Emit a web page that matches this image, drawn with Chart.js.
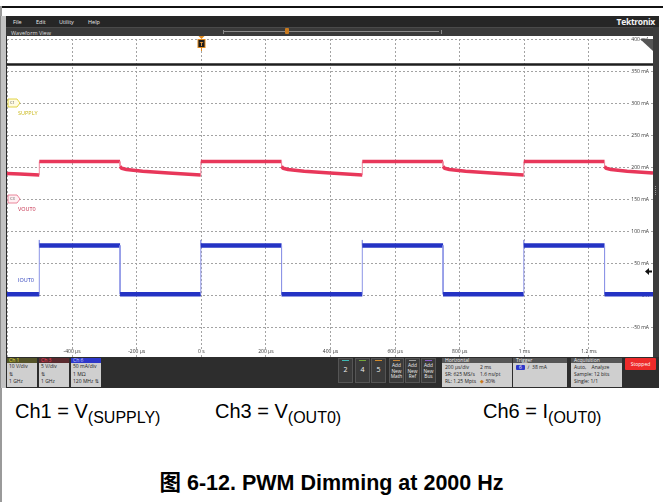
<!DOCTYPE html>
<html>
<head>
<meta charset="utf-8">
<script src="https://cdn.jsdelivr.net/npm/chart.js@4.4.0/dist/chart.umd.min.js"></script>
<style>
  body { margin: 0; width: 663px; height: 502px; background: #fff; position: relative; overflow: hidden;
         font-family: "Liberation Sans", Arial, "Noto Sans CJK SC", sans-serif; }
  .abs { position: absolute; }
  .ui { font-family: "Open Sans", "DejaVu Sans", sans-serif; white-space: nowrap; }
  #frameTop { left: 0; top: 6px; width: 663px; height: 2px; background: #111; }
  #frameLeft { left: 0; top: 6px; width: 2px; height: 496px; background: #9a9a9a; }
  #sideband { left: 0; top: 16px; width: 6px; height: 372px; background: #c2c2c2; border-left: 1px solid #8a8a8a; box-sizing: border-box; }
  #screen { left: 6px; top: 16px; width: 653px; height: 372px; background: #2c2c2c; }
  #menu { left: 6px; top: 16px; width: 653px; height: 11px; background: #262626; }
  #menu span { position: absolute; top: 2px; font-size: 5.5px; color: #e6e6e6; }
  #logo { position: absolute; right: 4px; top: 0px; font-size: 8.5px; font-weight: bold; color: #f2f2f2; letter-spacing: -0.3px; }
  #wfbar { left: 6px; top: 27px; width: 647px; height: 9px; background: #3a3a3a; border-top: 1px solid #4a4a4a; box-sizing: border-box; }
  #wfbar .t { position: absolute; left: 5px; top: 1px; font-size: 5.5px; color: #dcdcdc; }
  #plotbg { left: 7px; top: 36px; width: 646px; height: 321px; background: #fff; }
  #rightStrip { left: 653px; top: 27px; width: 6px; height: 331px; background: #3c3c3c; }
  #grip { left: 655px; top: 186px; width: 2px; height: 9px; border-left: 1px dotted #999; }
  #wrap { left: 7px; top: 36px; width: 646px; height: 323px; }
  #status { left: 6px; top: 357px; width: 653px; height: 31px; background: #2d2d2d; }
  .chbox { position: absolute; top: 1px; width: 30px; height: 29px; }
  .chbox .h { height: 5px; font-size: 5px; line-height: 5px; padding-left: 2px; }
  .chbox .b { height: 24px; background: #cfcfcf; font-size: 5px; line-height: 7.5px; padding-left: 2px; color: #222; }
  .btn { position: absolute; top: 1px; width: 15px; height: 25px; background: #3a3a3a; border: 1px solid #555; box-sizing: border-box;
         color: #eee; text-align: center; }
  .btn .bar { height: 1px; margin: 1px 3px 0 3px; }
  .num { font-size: 7px; line-height: 17px; }
  .add { font-size: 4.8px; line-height: 5.5px; padding-top: 2px; }
  .panel { position: absolute; top: 1px; height: 28px; }
  .panel .h { height: 5px; background: #555; color: #eee; font-size: 5px; line-height: 5px; padding-left: 3px; }
  .panel .b { height: 23px; background: #cfcfcf; color: #222; font-size: 5px; line-height: 7px; padding: 1px 0 0 3px; position: relative; }
  #stopped { position: absolute; left: 619px; top: 1px; width: 31px; height: 12px; background: #ee2a2a; color: #fff;
             font-size: 5px; line-height: 12px; text-align: center; border-radius: 1px; }
  .cap { font-size: 20px; color: #000; white-space: nowrap; line-height: 24px; }
  .cap sub { font-size: 16px; vertical-align: -5px; line-height: 0; }
  #title { left: 0; width: 663px; top: 471px; text-align: center; font-weight: bold; font-size: 21.5px; line-height: 24px; }
</style>
</head>
<body>
<div class="abs" id="frameTop"></div>
<div class="abs" id="frameLeft"></div>
<div class="abs" id="sideband"></div>
<div class="abs" id="screen"></div>
<div class="abs ui" id="menu">
  <span style="left:7px">File</span><span style="left:30px">Edit</span><span style="left:53px">Utility</span><span style="left:82px">Help</span>
  <div id="logo">Tektronix</div>
</div>
<div class="abs ui" id="wfbar"><span class="t">Waveform View</span>
  <div class="abs" style="left:217px;top:2px;width:217px;height:4px;border:1px solid #8a8a8a;border-top:none;border-bottom:none;"></div>
  <div class="abs" style="left:218px;top:3px;width:215px;height:1px;background:#8a8a8a;"></div>
  <div class="abs" style="left:279px;top:0px;width:4px;height:6px;background:#c97a1e;border-radius:1px;"></div>
</div>
<div class="abs" id="plotbg"></div>
<div class="abs" id="rightStrip"></div>
<div class="abs" id="grip"></div>
<div class="abs" id="wrap"><canvas id="scope" width="646" height="323"></canvas></div>

<div class="abs ui" id="status">
  <div class="chbox" style="left:1px"><div class="h" style="background:#55542a;color:#e8e23a">Ch 1</div>
    <div class="b">10 V/div<br>&#8645;<br>1 GHz</div></div>
  <div class="chbox" style="left:33px"><div class="h" style="background:#5a2b2f;color:#ff3c5a">Ch 3</div>
    <div class="b">5 V/div<br>&#8645;<br>1 GHz</div></div>
  <div class="chbox" style="left:65px"><div class="h" style="background:#2d37c9;color:#c8ccff">Ch 6</div>
    <div class="b">50 mA/div<br>1 M&Omega;<br>120 MHz &#8645;</div></div>

  <div class="btn" style="left:332px"><div class="bar" style="background:#3fb9b5"></div><div class="num">2</div></div>
  <div class="btn" style="left:349px"><div class="bar" style="background:#74a83a"></div><div class="num">4</div></div>
  <div class="btn" style="left:365px"><div class="bar" style="background:#d08a2c"></div><div class="num">5</div></div>
  <div class="btn" style="left:383px"><div class="bar" style="background:#c8863a"></div><div class="add">Add<br>New<br>Math</div></div>
  <div class="btn" style="left:399px"><div class="bar" style="background:#9a9a9a"></div><div class="add">Add<br>New<br>Ref</div></div>
  <div class="btn" style="left:415px"><div class="bar" style="background:#8a5ac8"></div><div class="add">Add<br>New<br>Bus</div></div>

  <div class="panel" style="left:436px;width:70px"><div class="h">Horizontal</div>
    <div class="b">200 &micro;s/div<br>SR: 625 MS/s<br>RL: 1.25 Mpts
      <div class="abs" style="left:38px;top:1px">2 ms<br>1.6 ns/pt<br><span style="color:#c97a1e">&#9670;</span> 30%</div></div></div>
  <div class="panel" style="left:507px;width:54px"><div class="h">Trigger</div>
    <div class="b"><span style="display:inline-block;width:9px;height:5px;background:#2d37c9;color:#fff;text-align:center;line-height:5px;border-radius:1px">6</span>
      &nbsp;&#8725;&nbsp;&nbsp;38 mA</div></div>
  <div class="panel" style="left:565px;width:51px"><div class="h">Acquisition</div>
    <div class="b">Auto,&nbsp;&nbsp;&nbsp;&nbsp;Analyze<br>Sample: 12 bits<br>Single: 1/1</div></div>
  <div id="stopped">Stopped</div>
</div>

<div class="abs cap" style="left:15px;top:399px">Ch1 = V<sub>(SUPPLY)</sub></div>
<div class="abs cap" style="left:215px;top:399px">Ch3 = V<sub>(OUT0)</sub></div>
<div class="abs cap" style="left:483px;top:399px">Ch6 = I<sub>(OUT0)</sub></div>
<div class="abs cap" id="title">图 6-12. PWM Dimming at 2000 Hz</div>

<script>
// graticule: time in microseconds, vertical in mA (Ch6 scale, 50 mA/div)
const timeTicksUs = [-600, -400, -200, 0, 200, 400, 600, 800, 1000, 1200, 1400];
const timeTickLabels = ['', '-400 µs', '-200 µs', '0 s', '200 µs', '400 µs', '600 µs', '800 µs', '1 ms', '1.2 ms', ''];
const currentTicksMa = [400, 350, 300, 250, 200, 150, 100, 50, 0, -50, -100];
const currentTickLabels = ['400 mA', '350 mA', '300 mA', '250 mA', '200 mA', '150 mA', '100 mA', '50 mA', '0 A', '-50 mA', ''];

// Ch1 SUPPLY (drawn on screen scale)
const supplyTimeUs = [-600, 1400];
const supplyMa = [360, 360];

// Ch3 VOUT0 (screen scale)
const voutTimeUs = [-600, -560, -500, -500, -250, -250, -245, -230, -180, -100, 0,
                    0, 250, 250, 255, 270, 320, 400, 500,
                    500, 750, 750, 755, 770, 820, 900, 1000,
                    1000, 1250, 1250, 1255, 1270, 1320, 1400];
const voutMa = [190, 189, 187.5, 208.5, 208.5, 201, 198, 196, 193.5, 190.5, 187.5,
                208.5, 208.5, 201, 198, 196, 193.5, 190.5, 187.5,
                208.5, 208.5, 201, 198, 196, 193.5, 190.5, 187.5,
                208.5, 208.5, 201, 198, 196, 193.5, 190.5];

// Ch6 IOUT0
const ioutTimeUs = [-600, -500, -500, -500, -250, -250, 0, 0, 0, 250, 250,
                    500, 500, 500, 750, 750, 1000, 1000, 1000, 1250, 1250, 1400];
const ioutMa = [1, 1, 86, 77.5, 77.5, 1, 1, 86, 77.5, 77.5, 1,
                1, 86, 77.5, 77.5, 1, 1, 86, 77.5, 77.5, 1, 1];

const supplyMarkerMa = 300;
const voutMarkerMa = 150;
const ioutMarkerMa = 0;
const triggerTimeUs = 0;
const triggerLevelMa = 38;

function pts(xs, ys) {
  return xs.map((t, i) => ({ x: t, y: ys[i] }));
}

// vertical transitions are drawn thin like on the scope
function edge(thick, thin, w) {
  return {
    borderWidth: c => c.p0.parsed.x === c.p1.parsed.x ? 1 : w,
    borderColor: c => c.p0.parsed.x === c.p1.parsed.x ? thin : thick
  };
}

function tag(ctx, x, y, text, stroke, fill) {
  ctx.beginPath();
  ctx.moveTo(x, y - 4);
  ctx.lineTo(x + 9, y - 4);
  ctx.lineTo(x + 12, y);
  ctx.lineTo(x + 9, y + 4);
  ctx.lineTo(x, y + 4);
  ctx.closePath();
  ctx.fillStyle = fill;
  ctx.fill();
  ctx.strokeStyle = stroke;
  ctx.lineWidth = 0.8;
  ctx.stroke();
  ctx.fillStyle = '#555';
  ctx.font = '4px "Open Sans"';
  ctx.textAlign = 'left';
  ctx.textBaseline = 'middle';
  ctx.fillText(text, x + 2, y + 0.3);
}

const graticule = {
  id: 'graticule',
  beforeDatasetsDraw(chart) {
    const { ctx, chartArea: a, scales: { x, y } } = chart;
    ctx.save();
    ctx.strokeStyle = '#a3a3a3';
    ctx.lineWidth = 1;
    ctx.setLineDash([2, 2]);
    timeTicksUs.forEach(t => {
      const px = Math.round(x.getPixelForValue(t)) + 0.5;
      ctx.beginPath(); ctx.moveTo(px, a.top); ctx.lineTo(px, a.bottom); ctx.stroke();
    });
    currentTicksMa.forEach(v => {
      const py = Math.round(y.getPixelForValue(v)) + 0.5;
      ctx.beginPath(); ctx.moveTo(a.left, py); ctx.lineTo(a.right, py); ctx.stroke();
    });
    ctx.setLineDash([]);

    // scale labels
    ctx.font = '5px "Open Sans"';
    ctx.textBaseline = 'middle';
    ctx.textAlign = 'right';
    currentTicksMa.forEach((v, i) => {
      if (!currentTickLabels[i]) return;
      const py = y.getPixelForValue(v);
      const w = ctx.measureText(currentTickLabels[i]).width;
      ctx.fillStyle = '#fff';
      ctx.fillRect(a.right - 5 - w, py - 3, w + 2, 6);
      ctx.fillStyle = '#333';
      ctx.fillText(currentTickLabels[i], a.right - 4, py + 0.5);
    });
    ctx.textAlign = 'center';
    timeTicksUs.forEach((t, i) => {
      if (!timeTickLabels[i]) return;
      const px = x.getPixelForValue(t);
      const w = ctx.measureText(timeTickLabels[i]).width;
      ctx.fillStyle = '#fff';
      ctx.fillRect(px - w / 2 - 1, y.getPixelForValue(-100) - 10, w + 2, 6);
      ctx.fillStyle = '#333';
      ctx.fillText(timeTickLabels[i], px + 0.5, y.getPixelForValue(-100) - 7);
    });

    // corner marker
    ctx.fillStyle = '#555';
    ctx.beginPath();
    ctx.moveTo(a.right - 13, a.top);
    ctx.lineTo(a.right, a.top);
    ctx.lineTo(a.right, a.top + 12);
    ctx.closePath();
    ctx.fill();
    ctx.restore();
  },
  afterDatasetsDraw(chart) {
    const { ctx, chartArea: a, scales: { x, y } } = chart;
    ctx.save();
    // channel tags and names
    const ys = y.getPixelForValue(supplyMarkerMa);
    tag(ctx, a.left + 1, ys, 'C1', '#d9c91a', '#fffbe2');
    ctx.font = '5.5px "Open Sans"';
    ctx.textAlign = 'left';
    ctx.textBaseline = 'middle';
    ctx.fillStyle = '#c9b81a';
    ctx.fillText('SUPPLY', a.left + 11, ys + 10);
    const yv = y.getPixelForValue(voutMarkerMa);
    tag(ctx, a.left + 1, yv, 'C3', '#e46a84', '#fff0f3');
    ctx.fillStyle = '#c42a48';
    ctx.font = '5.5px "Open Sans"';
    ctx.textAlign = 'left';
    ctx.fillText('VOUT0', a.left + 11, yv + 10);
    ctx.fillStyle = '#2b3dbb';
    ctx.fillText('IOUT0', a.left + 11, y.getPixelForValue(ioutMarkerMa) - 15);

    // trigger position marker
    const tx = Math.round(x.getPixelForValue(triggerTimeUs)) + 0.5;
    ctx.fillStyle = '#e08a1e';
    ctx.beginPath();
    ctx.moveTo(tx - 3, 0); ctx.lineTo(tx + 3, 0); ctx.lineTo(tx, 3); ctx.closePath(); ctx.fill();
    ctx.fillStyle = '#1c1c1c';
    ctx.fillRect(tx - 3.5, 3.5, 7, 8);
    ctx.strokeStyle = '#e08a1e';
    ctx.lineWidth = 1;
    ctx.strokeRect(tx - 3.5, 3.5, 7, 8);
    ctx.beginPath(); ctx.moveTo(tx, 11.5); ctx.lineTo(tx, 15); ctx.stroke();
    ctx.fillStyle = '#f0a040';
    ctx.font = 'bold 6px "Open Sans"';
    ctx.textAlign = 'center';
    ctx.fillText('T', tx, 7.8);

    // trigger level arrow
    const ty = Math.round(y.getPixelForValue(triggerLevelMa)) + 0.5;
    ctx.fillStyle = '#111';
    ctx.beginPath();
    ctx.moveTo(a.right - 8, ty); ctx.lineTo(a.right - 4, ty - 3.5); ctx.lineTo(a.right - 4, ty + 3.5); ctx.closePath(); ctx.fill();
    ctx.fillRect(a.right - 5, ty - 1, 4, 2);
    ctx.restore();
  }
};

new Chart(document.getElementById('scope').getContext('2d'), {
  type: 'line',
  data: {
    datasets: [
      {
        label: 'Ch1 SUPPLY',
        data: pts(supplyTimeUs, supplyMa),
        borderColor: '#1e1e1e',
        borderWidth: 2.5
      },
      {
        label: 'Ch3 VOUT0',
        data: pts(voutTimeUs, voutMa),
        segment: edge('#e8375a', '#f08aa0', 3.5),
        borderColor: '#e8375a',
        borderWidth: 3.5
      },
      {
        label: 'Ch6 IOUT0',
        data: pts(ioutTimeUs, ioutMa),
        segment: edge('#2433c4', '#8d95e6', 4.5),
        borderColor: '#2433c4',
        borderWidth: 4.5
      }
    ]
  },
  options: {
    responsive: false,
    animation: false,
    events: [],
    layout: { padding: { top: 3, left: 0, right: 0, bottom: 0 } },
    elements: { point: { radius: 0 }, line: { tension: 0, borderJoinStyle: 'round' } },
    plugins: { legend: { display: false }, tooltip: { enabled: false } },
    scales: {
      x: { type: 'linear', min: -600, max: 1400, display: false },
      y: { type: 'linear', min: -100, max: 400, display: false }
    }
  },
  plugins: [graticule]
});
</script>
</body>
</html>
